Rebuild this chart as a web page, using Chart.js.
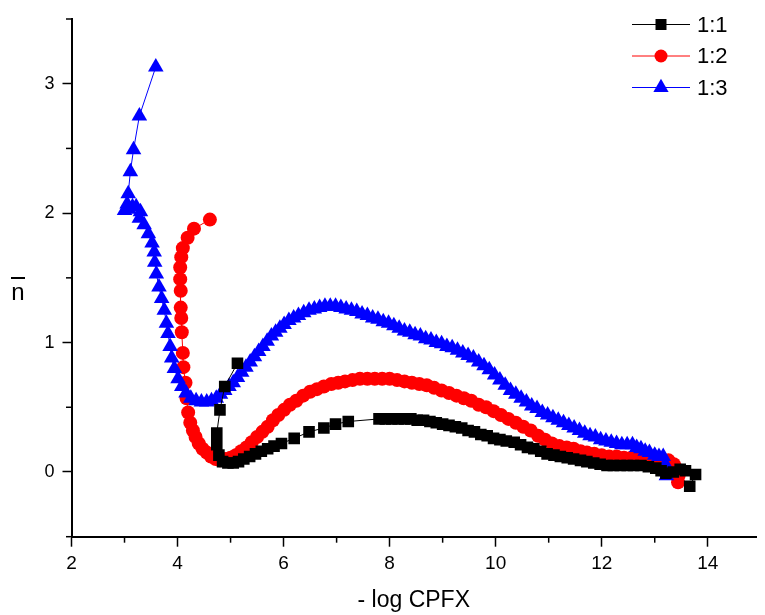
<!DOCTYPE html>
<html><head><meta charset="utf-8">
<script src="https://cdn.jsdelivr.net/npm/chart.js@4.4.1/dist/chart.umd.min.js"></script>
<style>html,body{margin:0;padding:0;background:#fff;}#wrap{width:765px;height:615px;position:relative;}</style>
</head><body><div id="wrap"><canvas id="c" width="765" height="615"></canvas></div>
<script>
const seriesNames = ['1:1', '1:2', '1:3'];
const xTitle = '- log CPFX';
const yTitle = 'n';
const xTicks = [2, 4, 6, 8, 10, 12, 14];
const yTicks = [0, 1, 2, 3];
const xMinor = [3, 5, 7, 9, 11, 13];
const yMinor = [-0.5, 0.5, 1.5, 2.5, 3.5];

// 1:1 (black squares)
const x11 = [5.13, 4.89, 4.80, 4.74, 4.74, 4.78, 4.85, 4.95, 5.05, 5.15, 5.25, 5.36, 5.47, 5.58, 5.70, 5.82, 5.96, 6.20, 6.48, 6.76, 6.98, 7.22, 7.80, 7.92, 8.04, 8.16, 8.28, 8.40, 8.52, 8.64, 8.76, 8.88, 9.00, 9.12, 9.24, 9.36, 9.48, 9.60, 9.72, 9.84, 9.96, 10.08, 10.20, 10.35, 10.47, 10.60, 10.72, 10.85, 10.97, 11.10, 11.22, 11.35, 11.47, 11.60, 11.72, 11.85, 11.97, 12.10, 12.22, 12.35, 12.48, 12.60, 12.74, 12.88, 13.02, 13.12, 13.21, 13.35, 13.48, 13.58, 13.77, 13.66];
const y11 = [0.84, 0.66, 0.48, 0.30, 0.21, 0.13, 0.08, 0.07, 0.07, 0.08, 0.10, 0.12, 0.14, 0.16, 0.18, 0.20, 0.22, 0.26, 0.31, 0.34, 0.37, 0.39, 0.41, 0.41, 0.41, 0.41, 0.41, 0.41, 0.40, 0.40, 0.39, 0.38, 0.37, 0.36, 0.35, 0.34, 0.32, 0.31, 0.29, 0.28, 0.26, 0.25, 0.24, 0.23, 0.21, 0.19, 0.18, 0.16, 0.14, 0.13, 0.12, 0.11, 0.10, 0.09, 0.08, 0.07, 0.06, 0.05, 0.05, 0.05, 0.05, 0.05, 0.05, 0.04, 0.03, 0.01, -0.01, 0.00, 0.02, 0.01, -0.02, -0.11];

// 1:2 (red circles)
const x12 = [4.61, 4.31, 4.19, 4.10, 4.07, 4.05, 4.05, 4.06, 4.06, 4.07, 4.08, 4.10, 4.11, 4.15, 4.17, 4.20, 4.24, 4.29, 4.34, 4.40, 4.47, 4.55, 4.63, 4.72, 4.80, 4.90, 5.00, 5.10, 5.20, 5.30, 5.40, 5.50, 5.60, 5.70, 5.80, 5.90, 6.01, 6.12, 6.24, 6.37, 6.50, 6.63, 6.76, 6.90, 7.03, 7.16, 7.30, 7.44, 7.58, 7.72, 7.86, 8.00, 8.14, 8.28, 8.42, 8.56, 8.70, 8.84, 8.98, 9.12, 9.26, 9.40, 9.54, 9.68, 9.82, 9.96, 10.10, 10.24, 10.38, 10.52, 10.66, 10.80, 10.93, 11.06, 11.20, 11.34, 11.47, 11.60, 11.72, 11.86, 12.00, 12.14, 12.28, 12.42, 12.56, 12.70, 12.84, 12.98, 13.12, 13.26, 13.36, 13.43, 13.45, 13.44];
const y12 = [1.95, 1.88, 1.81, 1.73, 1.66, 1.58, 1.49, 1.40, 1.27, 1.19, 1.08, 0.92, 0.81, 0.69, 0.57, 0.46, 0.38, 0.32, 0.27, 0.22, 0.18, 0.15, 0.12, 0.10, 0.09, 0.10, 0.11, 0.13, 0.16, 0.19, 0.23, 0.27, 0.31, 0.35, 0.40, 0.44, 0.48, 0.52, 0.55, 0.59, 0.62, 0.64, 0.66, 0.68, 0.69, 0.70, 0.71, 0.72, 0.72, 0.72, 0.72, 0.72, 0.71, 0.70, 0.69, 0.68, 0.67, 0.65, 0.63, 0.61, 0.59, 0.57, 0.55, 0.52, 0.50, 0.47, 0.44, 0.41, 0.38, 0.35, 0.32, 0.28, 0.25, 0.22, 0.20, 0.19, 0.18, 0.16, 0.15, 0.14, 0.13, 0.12, 0.12, 0.11, 0.11, 0.11, 0.11, 0.11, 0.10, 0.09, 0.06, 0.02, -0.03, -0.08];

// 1:3 (blue triangles)
const x13 = [3.59, 3.28, 3.17, 3.11, 3.07, 3.05, 3.00, 3.08, 3.15, 3.22, 3.30, 3.28, 3.37, 3.45, 3.52, 3.56, 3.57, 3.60, 3.65, 3.70, 3.75, 3.79, 3.82, 3.86, 3.89, 3.94, 4.01, 4.08, 4.16, 4.25, 4.35, 4.45, 4.55, 4.64, 4.73, 4.81, 4.89, 4.97, 5.05, 5.13, 5.21, 5.29, 5.37, 5.45, 5.53, 5.61, 5.69, 5.77, 5.85, 5.93, 6.01, 6.10, 6.19, 6.28, 6.38, 6.48, 6.58, 6.68, 6.78, 6.88, 6.98, 7.08, 7.18, 7.28, 7.38, 7.48, 7.58, 7.68, 7.78, 7.88, 7.98, 8.08, 8.18, 8.28, 8.38, 8.48, 8.58, 8.68, 8.78, 8.88, 8.98, 9.08, 9.18, 9.28, 9.38, 9.48, 9.58, 9.68, 9.78, 9.88, 9.98, 10.08, 10.18, 10.28, 10.38, 10.48, 10.58, 10.68, 10.78, 10.88, 10.98, 11.08, 11.18, 11.28, 11.38, 11.48, 11.58, 11.68, 11.78, 11.88, 11.98, 12.08, 12.18, 12.28, 12.38, 12.48, 12.58, 12.66, 12.74, 12.82, 12.90, 13.00, 13.08, 13.16, 13.20, 13.22];
const y13 = [3.13, 2.75, 2.49, 2.32, 2.15, 2.07, 2.02, 2.03, 2.05, 2.05, 2.01, 1.96, 1.91, 1.84, 1.77, 1.70, 1.62, 1.53, 1.43, 1.34, 1.25, 1.15, 1.07, 0.97, 0.88, 0.80, 0.72, 0.66, 0.61, 0.57, 0.55, 0.54, 0.54, 0.55, 0.57, 0.60, 0.63, 0.66, 0.69, 0.73, 0.77, 0.81, 0.85, 0.89, 0.93, 0.97, 1.01, 1.05, 1.08, 1.11, 1.14, 1.17, 1.19, 1.21, 1.23, 1.25, 1.26, 1.27, 1.28, 1.28, 1.28, 1.27, 1.26, 1.25, 1.24, 1.22, 1.21, 1.19, 1.18, 1.16, 1.15, 1.13, 1.11, 1.09, 1.08, 1.06, 1.05, 1.03, 1.02, 1.00, 0.99, 0.97, 0.96, 0.94, 0.92, 0.90, 0.88, 0.85, 0.82, 0.79, 0.75, 0.71, 0.67, 0.63, 0.60, 0.57, 0.54, 0.51, 0.49, 0.46, 0.44, 0.42, 0.40, 0.38, 0.36, 0.34, 0.32, 0.30, 0.28, 0.27, 0.25, 0.24, 0.23, 0.22, 0.21, 0.21, 0.21, 0.19, 0.18, 0.16, 0.15, 0.13, 0.12, 0.12, 0.06, -0.03];

const colors = ['#000000', '#ff0000', '#0000ff'];
const styles = ['rect', 'circle', 'triangle'];
const radii = [8.2, 7, 9];

function pts(xs, ys) { return xs.map((v, i) => ({ x: v, y: ys[i] })); }
const seriesData = [pts(x11, y11), pts(x12, y12), pts(x13, y13)];
const drawOrder = [0, 2, 1];

const FONT = '"Liberation Sans", Arial, Helvetica, sans-serif';

const decor = {
  id: 'decor',
  afterDraw(chart) {
    const ctx = chart.ctx, xs = chart.scales.x, ys = chart.scales.y, ca = chart.chartArea;
    ctx.save();
    ctx.strokeStyle = '#000';
    ctx.lineWidth = 1.5;
    xMinor.forEach(v => {
      const p = xs.getPixelForValue(v);
      ctx.beginPath(); ctx.moveTo(p, ca.bottom); ctx.lineTo(p, ca.bottom + 6); ctx.stroke();
    });
    yMinor.forEach(v => {
      const p = ys.getPixelForValue(v);
      ctx.beginPath(); ctx.moveTo(ca.left, p); ctx.lineTo(ca.left - 5.5, p); ctx.stroke();
    });
    // y axis title (upright n with overline)
    ctx.fillStyle = '#000';
    ctx.font = '24px ' + FONT;
    ctx.textAlign = 'center';
    ctx.textBaseline = 'alphabetic';
    ctx.fillText(yTitle, 18, 300);
    ctx.lineWidth = 2;
    ctx.beginPath(); ctx.moveTo(11, 278); ctx.lineTo(25, 278); ctx.stroke();
    // legend
    const rowsY = [24.5, 56, 87.5];
    for (let i = 0; i < 3; i++) {
      const y = rowsY[i];
      ctx.strokeStyle = colors[i];
      ctx.lineWidth = 1;
      ctx.beginPath(); ctx.moveTo(632, y); ctx.lineTo(690, y); ctx.stroke();
      ctx.fillStyle = colors[i];
      const cx = 661;
      ctx.beginPath();
      if (styles[i] === 'rect') {
        ctx.rect(cx - 5.5, y - 5.5, 11, 11);
      } else if (styles[i] === 'circle') {
        ctx.arc(cx, y, 6.5, 0, Math.PI * 2);
      } else {
        const r = 8.8;
        ctx.moveTo(cx, y - r);
        ctx.lineTo(cx + r * 0.866, y + r / 2);
        ctx.lineTo(cx - r * 0.866, y + r / 2);
        ctx.closePath();
      }
      ctx.fill();
      ctx.fillStyle = '#000';
      ctx.font = '22px ' + FONT;
      ctx.textAlign = 'left';
      ctx.textBaseline = 'middle';
      ctx.fillText(seriesNames[i], 697, y + 1);
    }
    ctx.restore();
  }
};

new Chart(document.getElementById('c'), {
  type: 'line',
  data: {
    datasets: seriesData.map((d, i) => ({
      label: seriesNames[i],
      data: d,
      borderColor: colors[i],
      backgroundColor: colors[i],
      borderWidth: 1,
      pointStyle: styles[i],
      pointRadius: radii[i],
      pointBackgroundColor: colors[i],
      pointBorderWidth: 0,
      tension: 0,
      fill: false,
      order: drawOrder[i]
    }))
  },
  options: {
    responsive: false,
    animation: false,
    events: [],
    layout: { padding: { left: 0, right: 0, top: 19, bottom: 0 } },
    plugins: { legend: { display: false }, tooltip: { enabled: false }, title: { display: false } },
    scales: {
      x: {
        type: 'linear', position: 'bottom', min: 2, max: 14.91,
        afterBuildTicks: s => { s.ticks = xTicks.map(v => ({ value: v })); },
        afterFit: s => { s.height = 78.3; },
        ticks: { color: '#000', font: { size: 19, family: FONT }, padding: 6, maxRotation: 0 },
        grid: { display: true, drawOnChartArea: false, drawTicks: true, tickLength: 10, tickColor: '#000', tickWidth: 1.5 },
        border: { display: true, color: '#000', width: 2 },
        title: { display: true, text: xTitle, color: '#000', font: { size: 23, family: FONT }, padding: { top: 0, bottom: 1 } }
      },
      y: {
        type: 'linear', position: 'left', min: -0.5, max: 3.5,
        afterBuildTicks: s => { s.ticks = yTicks.map(v => ({ value: v })); },
        afterFit: s => { s.width = 71.5; },
        ticks: { color: '#000', font: { size: 18, family: FONT }, padding: 8 },
        grid: { display: true, drawOnChartArea: false, drawTicks: true, tickLength: 9, tickColor: '#000', tickWidth: 1.5 },
        border: { display: true, color: '#000', width: 2 }
      }
    }
  },
  plugins: [decor]
});
</script>
</body></html>
